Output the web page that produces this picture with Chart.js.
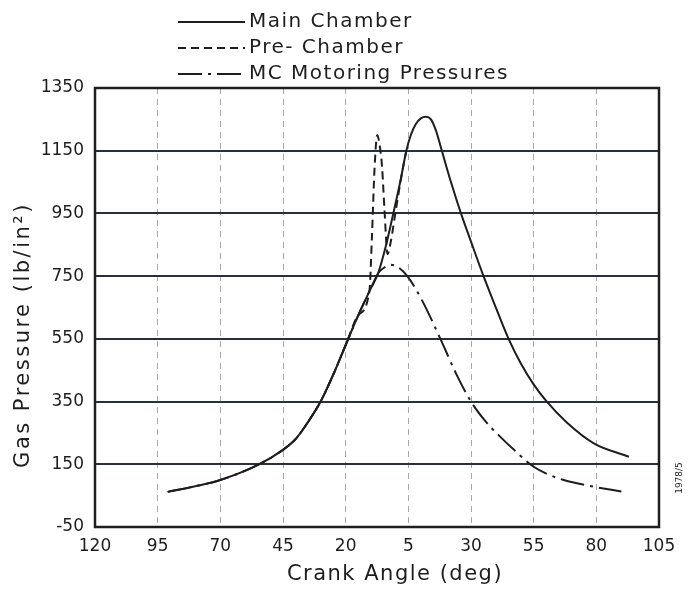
<!DOCTYPE html>
<html>
<head>
<meta charset="utf-8">
<script src="https://cdn.jsdelivr.net/npm/chart.js@4/dist/chart.umd.min.js"></script>
<style>
  html, body { margin: 0; padding: 0; background: #fff; }
  canvas { display: block; }
</style>
</head>
<body>
<canvas id="chart" width="690" height="592"></canvas>
<script>
// crank angle in degrees, negative = before TDC (axis shows absolute value)
const angleTicks = [-120, -95, -70, -45, -20, 5, 30, 55, 80, 105];
const pressureTicks = [-50, 150, 350, 550, 750, 950, 1150, 1350];

const mainAngle = [-91, -80, -70, -55, -45, -40, -35, -30, -25, -20, -15, -10, -7, -4, -1, 2, 4.2, 6, 8, 10, 12, 14, 16, 18, 22, 26, 30, 35, 40, 45, 50, 55, 60, 68, 79, 93];
const mainPressure = [62, 80, 100, 148, 196, 230, 285, 350, 435, 530, 625, 710, 760, 845, 950, 1060, 1150, 1200, 1235, 1253, 1258, 1250, 1215, 1160, 1050, 950, 860, 750, 648, 550, 470, 405, 352, 285, 217, 174];

const preAngle = [-45, -40, -35, -30, -25, -20, -15, -10.5, -9.5, -8.5, -7.4, -6.6, -5.5, -4.5, -3.3, -2, 0, 2.5, 4.2];
const prePressure = [196, 230, 285, 350, 435, 530, 625, 705, 880, 1090, 1200, 1175, 1100, 960, 820, 860, 960, 1080, 1150];

const motorAngle = [-91, -80, -70, -55, -45, -40, -35, -30, -25, -20, -15, -10, -7, -4.5, -2, 1, 4.6, 10, 17.8, 24, 30, 36, 42, 48, 55, 61, 67, 78, 90];
const motorPressure = [62, 80, 100, 148, 196, 230, 285, 350, 435, 530, 625, 710, 760, 778, 786, 778, 750, 680, 550, 440, 350, 285, 235, 190, 142, 117, 100, 80, 63];

const ink = '#1e1e1e';
const face = '"DejaVu Sans", sans-serif';

function toPoints (xs, ys) {
  return xs.map((x, i) => ({ x: x, y: ys[i] }));
}

// frame, stacked legend, axis titles and the small figure number
const paperPlugin = {
  id: 'paper',
  afterDraw (chart) {
    const { ctx, chartArea: a } = chart;
    ctx.save();
    ctx.strokeStyle = ink;
    ctx.fillStyle = ink;
    ctx.lineWidth = 2.5;
    ctx.strokeRect(a.left, a.top, a.right - a.left, a.bottom - a.top);

    ctx.font = '20px ' + face;
    ctx.letterSpacing = '1.5px';
    ctx.textBaseline = 'middle';
    chart.data.datasets.forEach((ds, i) => {
      const y = 22 + i * 26;
      ctx.setLineDash(ds.borderDash || []);
      ctx.lineWidth = 2;
      ctx.beginPath();
      ctx.moveTo(178, y);
      ctx.lineTo(245, y);
      ctx.stroke();
      ctx.setLineDash([]);
      ctx.fillText(ds.label, 249, y);
    });

    ctx.textAlign = 'center';
    ctx.font = '21px ' + face;
    ctx.fillText('Crank Angle (deg)', 395, 575);

    ctx.save();
    ctx.translate(24, 335);
    ctx.rotate(-Math.PI / 2);
    ctx.letterSpacing = '2.5px';
    ctx.fillText('Gas Pressure (lb/in²)', 0, 0);
    ctx.restore();

    ctx.translate(680, 478);
    ctx.rotate(-Math.PI / 2);
    ctx.letterSpacing = '0px';
    ctx.font = '9px ' + face;
    ctx.fillText('1978/5', 0, 0);
    ctx.restore();
  }
};

new Chart(document.getElementById('chart'), {
  type: 'line',
  data: {
    datasets: [
      {
        label: 'Main Chamber',
        data: toPoints(mainAngle, mainPressure),
        borderColor: ink,
        borderWidth: 2,
        borderDash: [],
        cubicInterpolationMode: 'monotone'
      },
      {
        label: 'Pre- Chamber',
        data: toPoints(preAngle, prePressure),
        borderColor: ink,
        borderWidth: 2,
        borderDash: [8, 5],
        cubicInterpolationMode: 'monotone'
      },
      {
        label: 'MC Motoring Pressures',
        data: toPoints(motorAngle, motorPressure),
        borderColor: ink,
        borderWidth: 2,
        borderDash: [24, 6, 3, 6],
        cubicInterpolationMode: 'monotone'
      }
    ]
  },
  options: {
    responsive: false,
    animation: false,
    elements: { point: { radius: 0 } },
    layout: { padding: { top: 88, right: 31, left: 0, bottom: 0 } },
    plugins: {
      legend: { display: false },
      tooltip: { enabled: false }
    },
    scales: {
      x: {
        type: 'linear',
        min: -120,
        max: 105,
        afterBuildTicks: s => { s.ticks = angleTicks.map(v => ({ value: v })); },
        afterFit: s => { s.height = 65; },
        ticks: {
          callback: v => String(Math.abs(v)),
          font: { family: face, size: 17 },
          color: ink,
          padding: 9,
          maxRotation: 0,
          autoSkip: false
        },
        grid: { color: '#a8a8a8', lineWidth: 1, drawTicks: false },
        border: { display: false, dash: [6, 5] }
      },
      y: {
        min: -50,
        max: 1350,
        afterBuildTicks: s => { s.ticks = pressureTicks.map(v => ({ value: v })); },
        afterFit: s => { s.width = 95; },
        ticks: {
          callback: v => String(v),
          font: { family: face, size: 17 },
          color: ink,
          padding: 11
        },
        grid: { color: '#27303c', lineWidth: 2, drawTicks: false },
        border: { display: false }
      }
    }
  },
  plugins: [paperPlugin]
});
</script>
</body>
</html>
